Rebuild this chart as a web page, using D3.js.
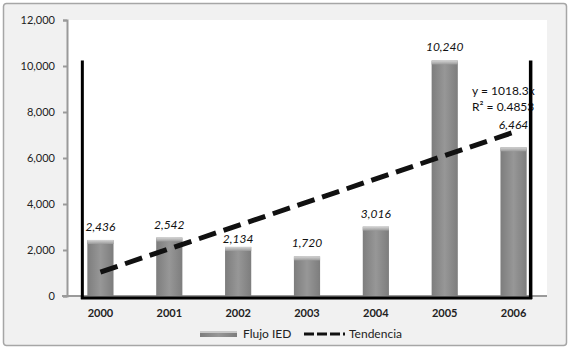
<!DOCTYPE html>
<html><head><meta charset="utf-8">
<script src="https://cdn.jsdelivr.net/npm/d3@7"></script>
<style>body{margin:0;background:#fff}svg{display:block}text{font-family:Lato,"Open Sans",sans-serif}</style>
</head><body><svg id="c" width="573" height="351"></svg>
<script>
const years = ["2000","2001","2002","2003","2004","2005","2006"];
const flujoIED = [2436, 2542, 2134, 1720, 3016, 10240, 6464];
const yTicks = [0, 2000, 4000, 6000, 8000, 10000, 12000];
const eqLabel = "y = 1018.3x";
const r2Label = "R² = 0.4853";
const legendLabels = ["Flujo IED", "Tendencia"];

const svg = d3.select("#c");
const defs = svg.append("defs");
const g1 = defs.append("linearGradient").attr("id","barG").attr("x1",0).attr("x2",1).attr("y1",0).attr("y2",0);
g1.append("stop").attr("offset","0").attr("stop-color","#7d7d7d");
g1.append("stop").attr("offset","0.5").attr("stop-color","#979797");
g1.append("stop").attr("offset","1").attr("stop-color","#7d7d7d");
const g2 = defs.append("linearGradient").attr("id","capG").attr("x1",0).attr("x2",0).attr("y1",0).attr("y2",1);
g2.append("stop").attr("offset","0").attr("stop-color","#d4d4d4");
g2.append("stop").attr("offset","1").attr("stop-color","#9a9a9a");

// outer background
svg.append("rect").attr("x",3.5).attr("y",3.5).attr("width",563).attr("height",342).attr("rx",3)
  .attr("fill","#f1f1f1").attr("stroke","#a6a6a6").attr("stroke-width",1.5);

const x = d3.scaleBand().domain(years).range([66, 548]).paddingInner(0.62).paddingOuter(0.31);
const y = d3.scaleLinear().domain([0, 12000]).range([296, 20]);

// plot area
svg.append("rect").attr("x",67).attr("y",20).attr("width",480).attr("height",276).attr("fill","#fff");

// y axis
const yAxis = svg.append("g").attr("transform","translate(67,0)")
  .call(d3.axisLeft(y).tickValues(yTicks).tickFormat(d3.format(",")).tickSize(4).tickPadding(8));
yAxis.select(".domain").attr("stroke","#9a9a9a").attr("stroke-width",2);
yAxis.selectAll(".tick line").attr("stroke","#9a9a9a").attr("stroke-width",2);
yAxis.selectAll("text").attr("font-size",11).attr("fill","#222");

// x axis
const xAxis = svg.append("g").attr("transform","translate(0,296)")
  .call(d3.axisBottom(x).tickSize(0).tickPadding(13));
xAxis.select(".domain").attr("stroke","#9a9a9a").attr("stroke-width",2).attr("d","M62,0H547");
xAxis.selectAll("text").attr("font-size",11).attr("fill","#222").attr("font-weight","bold");

// bars
const bars = svg.append("g");
years.forEach((yr,i)=>{
  const bx = x(yr), bw = x.bandwidth(), top = y(flujoIED[i]);
  bars.append("rect").attr("x",bx).attr("y",top).attr("width",bw).attr("height",296-top).attr("fill","url(#barG)");
  bars.append("rect").attr("x",bx).attr("y",top).attr("width",bw).attr("height",4).attr("fill","url(#capG)");
});

// trend line (least squares)
const xs = years.map((d,i)=>i+1);
const mx = d3.mean(xs), my = d3.mean(flujoIED);
const slope = d3.sum(xs.map((v,i)=>(v-mx)*(flujoIED[i]-my))) / d3.sum(xs.map(v=>(v-mx)*(v-mx)));
const icpt = my - slope*mx;
const cx = yr => x(yr) + x.bandwidth()/2;
svg.append("line")
  .attr("x1",cx(years[0])).attr("y1",y(icpt+slope*xs[0]))
  .attr("x2",cx(years[6])).attr("y2",y(icpt+slope*xs[6]))
  .attr("stroke","#111").attr("stroke-width",5).attr("stroke-dasharray","18,8");

// value labels
const nudge = {"2002":5, "2006":-9};
svg.append("g").selectAll("text").data(years).join("text")
  .attr("x",d=>cx(d)).attr("y",(d,i)=>y(flujoIED[i]) - 9 + (nudge[d]||0))
  .attr("text-anchor","middle").attr("font-size",12).attr("font-style","italic").attr("fill","#111")
  .text((d,i)=>d3.format(",")(flujoIED[i]));

// equation
svg.append("text").attr("x",472).attr("y",95).attr("font-size",12).attr("fill","#111").text(eqLabel);
svg.append("text").attr("x",472).attr("y",111).attr("font-size",12).attr("fill","#111").text(r2Label);

// black frame lines
const lx = x(years[0]) - 5, rx = x(years[6]) + x.bandwidth() + 4;
const topY = y(d3.max(flujoIED));
svg.append("line").attr("x1",lx).attr("x2",lx).attr("y1",topY).attr("y2",299).attr("stroke","#000").attr("stroke-width",3);
svg.append("line").attr("x1",rx).attr("x2",rx).attr("y1",topY).attr("y2",299).attr("stroke","#000").attr("stroke-width",3.5);
svg.append("line").attr("x1",lx-1.5).attr("x2",rx+1.5).attr("y1",298).attr("y2",298).attr("stroke","#000").attr("stroke-width",3);

// legend
const lg = svg.append("g");
lg.append("rect").attr("x",200).attr("y",331).attr("width",37).attr("height",6).attr("fill","url(#barG)");
lg.append("rect").attr("x",200).attr("y",331).attr("width",37).attr("height",2).attr("fill","#c8c8c8");
lg.append("text").attr("x",243).attr("y",338).attr("font-size",12).attr("fill","#222").text(legendLabels[0]);
lg.append("line").attr("x1",304).attr("x2",345).attr("y1",334).attr("y2",334).attr("stroke","#111").attr("stroke-width",3).attr("stroke-dasharray","10,3");
lg.append("text").attr("x",349).attr("y",338).attr("font-size",12).attr("fill","#222").text(legendLabels[1]);
</script></body></html>
